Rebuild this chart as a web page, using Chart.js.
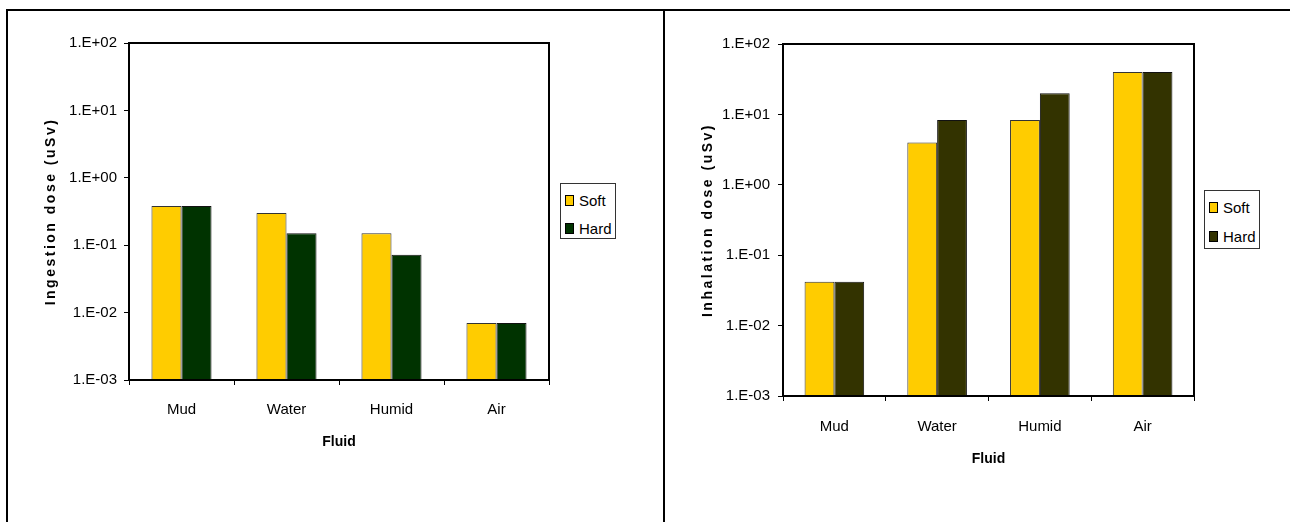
<!DOCTYPE html>
<html>
<head>
<meta charset="utf-8">
<script src="https://cdn.jsdelivr.net/npm/chart.js@4/dist/chart.umd.min.js"></script>
<style>
  html, body { margin: 0; padding: 0; background: #fff; }
  body { width: 1290px; height: 522px; position: relative; overflow: hidden;
         font-family: "Liberation Sans", Arial, sans-serif; }
  .rule { position: absolute; background: #000; z-index: 3; }
  .panel { position: absolute; top: 0; height: 522px; }
  .legend { position: absolute; box-sizing: border-box; border: 1px solid #333;
            background: #fff; padding-top: 2px; z-index: 2; }
  .legend .row { display: flex; align-items: center; font-size: 15px; color: #000; white-space: nowrap; }
  .legend .sw { width: 7px; height: 9px; border: 1px solid #000; margin-left: 4px; margin-right: 5px; flex: none; }
</style>
</head>
<body>
<div class="rule" style="left:6px;top:9px;width:1284px;height:2px"></div>
<div class="rule" style="left:6px;top:9px;width:2px;height:513px"></div>
<div class="rule" style="left:663px;top:9px;width:2px;height:513px"></div>

<div class="panel" style="left:0;width:663px"><canvas id="ingestion" width="663" height="522"></canvas></div>
<div class="panel" style="left:665px;width:625px"><canvas id="inhalation" width="625" height="522"></canvas></div>

<div class="legend" id="legendIngestion" style="left:560px;top:183px;width:56px;height:56px"></div>
<div class="legend" id="legendInhalation" style="left:1204px;top:190px;width:56px;height:59px"></div>

<script>
// Fluid categories and series
const categories = ['Mud', 'Water', 'Humid', 'Air'];
const seriesNames = ['Soft', 'Hard'];

// Ingestion dose (uSv)
const ingestionSoft = [0.38, 0.30, 0.15, 0.007];
const ingestionHard = [0.38, 0.15, 0.072, 0.007];

// Inhalation dose (uSv)
const inhalationSoft = [0.042, 4.0, 8.3, 40];
const inhalationHard = [0.042, 8.3, 20, 40];

// Decade ticks of the log axis
const yTickValues = [0.001, 0.01, 0.1, 1, 10, 100];
const yTickLabels = ['1.E-03', '1.E-02', '1.E-01', '1.E+00', '1.E+01', '1.E+02'];

const softColor = '#FFCC00';
const FONT = '"Liberation Sans", Arial, sans-serif';

// Frames the plot area and writes the rotated, letter-spaced y title
const plotFrame = {
  id: 'plotFrame',
  afterDraw(chart, args, opts) {
    const { ctx, chartArea: a } = chart;
    ctx.save();
    ctx.strokeStyle = '#000';
    ctx.lineWidth = 2;
    ctx.strokeRect(a.left, a.top, a.right - a.left, a.bottom - a.top);
    ctx.restore();

    ctx.save();
    ctx.translate(opts.titleX, (a.top + a.bottom) / 2);
    ctx.rotate(-Math.PI / 2);
    ctx.font = 'bold 14px ' + FONT;
    ctx.letterSpacing = '2.5px';
    ctx.fillStyle = '#000';
    ctx.textAlign = 'center';
    ctx.textBaseline = 'middle';
    ctx.fillText(opts.text, 0, 0);
    ctx.restore();
  }
};

function makeChart(id, soft, hard, hardColor, yTitle, geo) {
  const canvas = document.getElementById(id);
  const W = canvas.width, H = canvas.height;
  const xBottom = geo.xTitleY + 8.4;
  return new Chart(canvas, {
    type: 'bar',
    data: {
      labels: categories,
      datasets: [
        { label: seriesNames[0], data: soft, backgroundColor: softColor, borderColor: '#333', borderWidth: 1 },
        { label: seriesNames[1], data: hard, backgroundColor: hardColor, borderColor: '#111', borderWidth: 1 }
      ]
    },
    options: {
      responsive: false,
      animation: false,
      devicePixelRatio: 1,
      categoryPercentage: geo.catPct,
      barPercentage: 1.0,
      layout: { padding: { left: 0, top: geo.top, right: W - geo.right, bottom: H - xBottom } },
      plugins: {
        legend: { display: false },
        tooltip: { enabled: false },
        plotFrame: { text: yTitle, titleX: geo.titleX }
      },
      scales: {
        x: {
          offset: true,
          grid: { display: true, offset: true, drawOnChartArea: false, drawTicks: true, tickLength: 5, color: '#000', lineWidth: 1 },
          border: { display: true, color: '#000', width: 2 },
          ticks: { color: '#000', font: { family: FONT, size: 15 }, padding: geo.xTickPad, maxRotation: 0 },
          title: { display: true, text: 'Fluid', color: '#000', font: { family: FONT, size: 14, weight: 'bold' }, padding: 0 },
          afterFit(s) { s.height = xBottom - geo.bottom; }
        },
        y: {
          type: 'logarithmic',
          min: yTickValues[0],
          max: yTickValues[yTickValues.length - 1],
          grid: { display: true, drawOnChartArea: false, drawTicks: true, tickLength: 5, color: '#000', lineWidth: 1 },
          border: { display: true, color: '#000', width: 2 },
          ticks: {
            color: '#000', font: { family: FONT, size: 15 }, padding: geo.yTickPad,
            callback(v) { const i = yTickValues.findIndex(t => Math.abs(Math.log10(t) - Math.log10(v)) < 1e-6); return i >= 0 ? yTickLabels[i] : ''; }
          },
          afterBuildTicks(s) { s.ticks = yTickValues.map(v => ({ value: v })); },
          afterFit(s) { s.width = geo.left; }
        }
      }
    },
    plugins: [plotFrame]
  });
}

function buildLegend(elId, chart, rowH) {
  const box = document.getElementById(elId);
  chart.data.datasets.forEach(ds => {
    const row = document.createElement('div');
    row.className = 'row';
    row.style.height = rowH + 'px';
    const sw = document.createElement('span');
    sw.className = 'sw';
    sw.style.background = ds.backgroundColor;
    const tx = document.createElement('span');
    tx.textContent = ds.label;
    row.appendChild(sw);
    row.appendChild(tx);
    box.appendChild(row);
  });
}

const left = makeChart('ingestion', ingestionSoft, ingestionHard, '#003300', 'Ingestion dose (uSv)',
  { left: 129, top: 43, right: 549, bottom: 380, xTitleY: 442, catPct: 0.572, titleX: 51, xTickPad: 16, yTickPad: 7 });
const right = makeChart('inhalation', inhalationSoft, inhalationHard, '#333300', 'Inhalation dose (uSv)',
  { left: 118, top: 44, right: 529, bottom: 396, xTitleY: 459, catPct: 0.58, titleX: 43, xTickPad: 17, yTickPad: 8 });

buildLegend('legendIngestion', left, 28);
buildLegend('legendInhalation', right, 29);
</script>
</body>
</html>
